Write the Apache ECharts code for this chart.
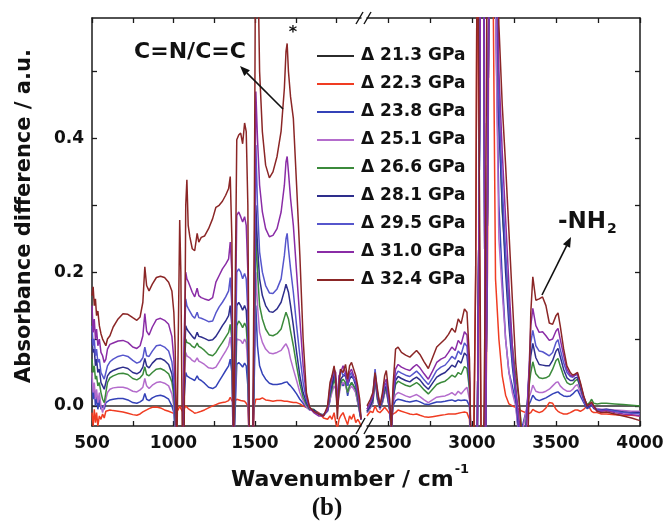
<!DOCTYPE html>
<html><head><meta charset="utf-8">
<script src="https://cdn.jsdelivr.net/npm/echarts@6/dist/echarts.min.js"></script>
<style>html,body{margin:0;padding:0;background:#fff}#c{width:667px;height:525px}</style>
</head><body><div id="c"></div>
<script>
// ---------- DATA ----------
const wnLeft = [500,507,514,521,528,536,545,555,565,575,
 585,595,610,630,660,690,720,750,775,795,
 812,824,835,850,870,895,920,945,970,990,
 1002,1010,1020,1030,1038,1045,1055,1065,1075,1082,
 1090,1100,1115,1130,1145,1155,1170,1190,1215,1240,
 1260,1280,1300,1320,1338,1348,1358,1368,1378,1388,
 1400,1412,1424,1436,1446,1456,1466,1476,1486,1496,
 1505,1515,1528,1545,1565,1588,1610,1635,1660,1680,
 1690,1697,1705,1718,1735,1755,1775,1795,1815,1835,
 1860,1890,1920,1945,1960,1972,1985,1995,2005,2015,
 2025,2040,2055,2068,2080,2092,2105,2118,2130,2142,
 2150];
const wnRight = [2375,2395,2410,2423,2437,2452,2467,2480,2490,2500,
 2510,2520,2530,2545,2560,2580,2605,2630,2650,2670,
 2690,2715,2740,2765,2790,2815,2840,2860,2880,2900,
 2918,2935,2955,2970,2985,2995,3010,3022,3032,3042,
 3055,3068,3080,3092,3105,3120,3140,3160,3180,3200,
 3220,3240,3260,3280,3300,3320,3335,3350,3362,3380,
 3400,3420,3440,3460,3480,3500,3512,3525,3545,3565,
 3585,3600,3615,3628,3645,3665,3685,3700,3712,3725,
 3745,3770,3800,3850,3900,3950,4000];

const seriesNames = ['Δ 21.3 GPa','Δ 22.3 GPa','Δ 23.8 GPa','Δ 25.1 GPa','Δ 26.6 GPa','Δ 28.1 GPa','Δ 29.5 GPa','Δ 31.0 GPa','Δ 32.4 GPa'];

// reference (21.3 GPa) difference is flat zero
const wnBlackLeft = [500, 2150];
const p213Left = [0, 0];
const wnBlackRight = [2375, 4000];
const p213Right = [0, 0];

const p223Left = [
 -0.01,-0.03,-0.005,-0.025,-0.01,-0.03,-0.015,-0.02,-0.012,-0.018,
 -0.008,-0.006,-0.006,-0.007,-0.008,-0.009,-0.011,-0.013,-0.014,-0.012,
 -0.009,-0.007,-0.006,-0.004,-0.002,-0.0015,-0.003,-0.006,-0.008,-0.01,
 -0.01,-0.012,-0.01,-0.005,0.0,-0.004,-0.008,-0.005,0.0,-0.002,
 -0.004,-0.002,-0.008,-0.011,-0.01,-0.009,-0.008,-0.006,-0.003,0.0,
 0.002,0.004,0.005,0.006,0.008,0.013,0.008,0.005,0.006,0.01,
 0.011,0.008,0.006,0.007,0.004,0.0,-0.06,-0.08,-0.06,0.0,
 0.01,0.009,0.01,0.012,0.009,0.008,0.007,0.008,0.008,0.007,
 0.008,0.007,0.006,0.006,0.005,0.005,0.003,0.0,-0.002,-0.004,
 -0.006,-0.01,-0.018,-0.02,-0.015,-0.02,-0.01,-0.025,-0.035,-0.02,
 -0.015,-0.01,-0.02,-0.028,-0.015,-0.02,-0.012,-0.025,-0.02,-0.025,
 -0.03];
const p223Right = [
 -0.015,-0.008,-0.01,0.0,-0.008,-0.01,-0.006,-0.002,0.0,-0.008,
 -0.012,-0.015,-0.012,-0.01,-0.006,-0.008,-0.01,-0.012,-0.013,-0.012,
 -0.014,-0.016,-0.017,-0.016,-0.015,-0.014,-0.013,-0.012,-0.012,-0.012,
 -0.011,-0.01,-0.009,-0.01,-0.02,-0.08,-0.05,0.2,0.8,0.3,
 -0.08,-0.08,-0.08,0.2,0.8,0.8,0.19,0.1,0.045,0.016,
 0.003,0.0,-0.002,-0.005,-0.008,-0.01,-0.012,-0.01,-0.005,-0.008,
 -0.01,-0.008,-0.003,0.005,0.004,-0.005,-0.008,-0.01,-0.012,-0.012,
 -0.01,-0.008,-0.006,-0.006,-0.008,-0.005,0.0,-0.003,-0.008,-0.01,
 -0.01,-0.012,-0.012,-0.013,-0.014,-0.014,-0.015];

const p238Left = [
 0.04,0.01,0.025,0.0,0.015,-0.005,0.01,-0.005,0.0,-0.005,
 0.005,0.007,0.009,0.01,0.011,0.011,0.009,0.005,0.004,0.006,
 0.009,0.0186,0.01,0.008,0.012,0.015,0.016,0.014,0.01,0.0,
 -0.01,-0.04,-0.08,-0.08,-0.08,-0.08,-0.08,0.01,0.05,0.045,
 0.043,0.042,0.04,0.038,0.045,0.04,0.038,0.034,0.028,0.026,
 0.029,0.037,0.045,0.053,0.06,0.07,0.05,-0.08,-0.08,0.062,
 0.065,0.062,0.058,0.064,0.06,0.03,-0.08,-0.08,-0.08,0.05,
 0.15,0.09,0.06,0.048,0.04,0.034,0.032,0.032,0.033,0.035,
 0.036,0.036,0.033,0.03,0.025,0.018,0.01,0.004,-0.002,-0.006,
 -0.006,-0.012,-0.014,-0.008,0.008,0.03,0.05,0.035,0.0,0.025,
 0.04,0.03,0.035,0.015,0.03,0.035,0.03,0.02,0.005,-0.01,
 -0.02];
const p238Right = [
 -0.01,-0.003,0.004,0.05,0.01,-0.005,0.005,0.02,0.025,0.008,
 -0.006,-0.035,0.0,0.008,0.01,0.009,0.007,0.006,0.007,0.008,
 0.006,0.003,0.002,0.004,0.006,0.006,0.007,0.008,0.009,0.007,
 0.009,0.008,0.009,0.008,0.0,-0.08,-0.08,-0.08,-0.03,0.3,
 0.8,0.8,-0.08,0.3,0.8,0.8,0.6,0.3,0.19,0.1,
 0.05,0.03,0.005,-0.05,-0.03,-0.01,0.0,0.008,0.016,0.01,
 0.008,0.01,0.012,0.015,0.018,0.02,0.021,0.018,0.015,0.014,
 0.015,0.018,0.022,0.024,0.015,0.005,-0.004,-0.002,0.002,-0.004,
 -0.006,-0.007,-0.007,-0.008,-0.009,-0.01,-0.01];

const p251Left = [
 0.05,0.02,0.035,0.01,0.025,0.005,0.02,0.0,-0.01,0.0,
 0.01,0.02,0.025,0.027,0.028,0.028,0.026,0.022,0.021,0.024,
 0.028,0.041,0.03,0.026,0.031,0.035,0.036,0.034,0.03,0.018,
 0.0,-0.03,-0.08,-0.08,-0.08,-0.08,-0.08,0.03,0.08,0.075,
 0.073,0.072,0.068,0.066,0.072,0.067,0.065,0.062,0.057,0.056,
 0.058,0.066,0.074,0.082,0.09,0.103,0.08,-0.08,-0.08,0.1,
 0.102,0.098,0.093,0.1,0.095,0.06,-0.08,-0.08,-0.08,0.08,
 0.2,0.15,0.11,0.095,0.085,0.079,0.078,0.08,0.083,0.09,
 0.093,0.094,0.085,0.07,0.055,0.038,0.02,0.008,-0.001,-0.006,
 -0.006,-0.012,-0.013,-0.007,0.01,0.02,0.03,0.025,-0.005,0.015,
 0.03,0.035,0.03,0.02,0.025,0.03,0.025,0.02,0.005,-0.01,
 -0.02];
const p251Right = [
 -0.01,-0.002,0.005,0.035,0.01,-0.005,0.005,0.018,0.022,0.008,
 -0.006,-0.035,0.005,0.017,0.02,0.018,0.015,0.013,0.015,0.017,
 0.014,0.009,0.005,0.009,0.013,0.014,0.015,0.017,0.02,0.016,
 0.022,0.018,0.024,0.028,0.01,-0.08,-0.08,-0.08,-0.03,0.3,
 0.8,0.8,-0.08,0.3,0.8,0.8,0.6,0.25,0.17,0.1,
 0.05,0.02,0.0,-0.05,-0.04,-0.01,0.01,0.02,0.031,0.022,
 0.02,0.02,0.022,0.025,0.03,0.035,0.036,0.03,0.025,0.022,
 0.022,0.025,0.03,0.032,0.02,0.008,-0.002,0.0,0.004,-0.002,
 -0.004,-0.005,-0.005,-0.006,-0.007,-0.008,-0.008];

const p266Left = [
 0.07,0.05,0.06,0.04,0.045,0.03,0.035,0.02,0.01,0.005,
 0.02,0.035,0.042,0.045,0.048,0.049,0.047,0.041,0.039,0.042,
 0.047,0.0585,0.047,0.045,0.05,0.055,0.056,0.053,0.048,0.036,
 0.015,-0.02,-0.08,-0.08,-0.08,-0.08,-0.08,0.05,0.1,0.095,
 0.094,0.093,0.089,0.087,0.094,0.089,0.087,0.083,0.077,0.075,
 0.08,0.088,0.095,0.103,0.11,0.122,0.1,-0.08,-0.08,0.12,
 0.127,0.123,0.117,0.124,0.118,0.08,-0.08,-0.08,-0.08,0.1,
 0.26,0.2,0.15,0.13,0.115,0.106,0.105,0.108,0.115,0.132,
 0.14,0.141,0.13,0.112,0.09,0.06,0.033,0.013,0.002,-0.005,
 -0.005,-0.012,-0.013,-0.006,0.015,0.025,0.04,0.03,0.0,0.02,
 0.035,0.04,0.035,0.02,0.03,0.035,0.03,0.025,0.01,-0.008,
 -0.02];
const p266Right = [
 -0.008,0.0,0.008,0.04,0.012,-0.003,0.008,0.022,0.027,0.01,
 -0.005,-0.035,0.01,0.032,0.037,0.034,0.031,0.029,0.032,0.035,
 0.031,0.024,0.018,0.025,0.032,0.035,0.037,0.041,0.046,0.043,
 0.05,0.047,0.059,0.056,0.025,-0.08,-0.08,-0.08,-0.03,0.3,
 0.8,0.8,-0.08,0.3,0.8,0.8,0.8,0.45,0.29,0.22,
 0.15,0.09,0.045,0.01,-0.05,-0.03,0.02,0.05,0.066,0.048,
 0.042,0.041,0.042,0.045,0.055,0.068,0.071,0.06,0.045,0.035,
 0.032,0.033,0.038,0.04,0.027,0.012,0.002,0.005,0.01,0.004,
 0.003,0.004,0.004,0.003,0.002,0.001,0.0];

const p281Left = [
 0.1,0.08,0.085,0.06,0.07,0.05,0.055,0.035,0.03,0.025,
 0.035,0.045,0.05,0.053,0.056,0.058,0.056,0.05,0.048,0.051,
 0.058,0.071,0.06,0.057,0.064,0.07,0.071,0.068,0.062,0.048,
 0.025,-0.01,-0.08,-0.08,-0.08,-0.08,-0.08,0.06,0.12,0.115,
 0.112,0.11,0.104,0.1,0.11,0.104,0.103,0.101,0.098,0.099,
 0.104,0.112,0.12,0.127,0.135,0.15,0.12,-0.08,-0.08,0.15,
 0.155,0.15,0.143,0.15,0.143,0.1,-0.08,-0.08,-0.08,0.12,
 0.3,0.24,0.19,0.165,0.15,0.141,0.14,0.145,0.155,0.172,
 0.182,0.183,0.17,0.15,0.12,0.08,0.045,0.02,0.005,-0.004,
 -0.006,-0.012,-0.014,-0.006,0.02,0.03,0.045,0.04,0.0,0.03,
 0.04,0.045,0.045,0.03,0.04,0.045,0.04,0.03,0.015,-0.005,
 -0.02];
const p281Right = [
 -0.008,0.0,0.01,0.045,0.015,-0.003,0.01,0.025,0.03,0.012,
 -0.005,-0.035,0.01,0.038,0.044,0.041,0.038,0.036,0.04,0.043,
 0.039,0.031,0.025,0.034,0.043,0.047,0.05,0.055,0.061,0.058,
 0.068,0.064,0.079,0.075,0.035,-0.08,-0.08,-0.08,-0.03,0.3,
 0.8,0.8,-0.08,0.3,0.8,0.8,0.8,0.42,0.3,0.2,
 0.12,0.06,0.015,-0.04,-0.08,-0.04,0.03,0.075,0.0935,0.072,
 0.062,0.061,0.06,0.06,0.068,0.082,0.086,0.074,0.055,0.042,
 0.038,0.038,0.042,0.043,0.028,0.01,-0.002,0.0,0.003,-0.003,
 -0.006,-0.006,-0.005,-0.007,-0.009,-0.01,-0.01];

const p295Left = [
 0.12,0.09,0.1,0.075,0.085,0.065,0.07,0.05,0.045,0.04,
 0.05,0.06,0.066,0.07,0.074,0.076,0.074,0.068,0.064,0.066,
 0.072,0.088,0.075,0.074,0.082,0.09,0.091,0.088,0.082,0.066,
 0.04,0.005,-0.08,-0.08,-0.08,-0.08,-0.08,0.08,0.16,0.15,
 0.146,0.145,0.135,0.131,0.14,0.132,0.131,0.129,0.126,0.127,
 0.139,0.148,0.155,0.163,0.172,0.192,0.15,-0.08,-0.08,0.2,
 0.205,0.2,0.19,0.198,0.19,0.14,-0.08,-0.08,-0.08,0.15,
 0.39,0.3,0.23,0.2,0.18,0.169,0.168,0.175,0.19,0.225,
 0.25,0.258,0.235,0.205,0.17,0.12,0.075,0.035,0.01,-0.003,
 -0.008,-0.012,-0.014,-0.005,0.025,0.045,0.05,0.035,0.01,0.04,
 0.055,0.045,0.05,0.03,0.045,0.05,0.04,0.035,0.02,0.0,
 -0.02];
const p295Right = [
 -0.005,0.005,0.015,0.055,0.02,0.0,0.012,0.03,0.035,0.015,
 -0.003,-0.035,0.015,0.045,0.052,0.049,0.046,0.044,0.048,0.052,
 0.047,0.039,0.032,0.042,0.053,0.058,0.061,0.067,0.074,0.07,
 0.082,0.077,0.094,0.089,0.04,-0.08,-0.08,-0.08,-0.03,0.3,
 0.8,0.8,-0.08,0.3,0.8,0.8,0.8,0.45,0.33,0.23,
 0.14,0.07,0.02,-0.03,-0.08,-0.05,0.03,0.095,0.113,0.09,
 0.082,0.081,0.078,0.075,0.08,0.095,0.099,0.085,0.065,0.05,
 0.044,0.043,0.046,0.047,0.032,0.012,0.0,0.002,0.004,-0.002,
 -0.006,-0.007,-0.006,-0.008,-0.01,-0.011,-0.012];

const p310Left = [
 0.15,0.11,0.13,0.1,0.115,0.09,0.1,0.08,0.075,0.065,
 0.07,0.085,0.092,0.094,0.097,0.098,0.095,0.088,0.086,0.09,
 0.105,0.138,0.112,0.106,0.118,0.129,0.131,0.128,0.122,0.104,
 0.07,0.03,-0.08,-0.08,-0.08,-0.08,-0.08,0.1,0.2,0.19,
 0.186,0.184,0.17,0.163,0.176,0.165,0.162,0.16,0.158,0.162,
 0.185,0.195,0.205,0.212,0.22,0.245,0.2,-0.08,-0.08,0.285,
 0.29,0.283,0.275,0.283,0.27,0.2,-0.08,-0.08,-0.08,0.2,
 0.47,0.4,0.33,0.29,0.265,0.253,0.255,0.265,0.29,0.33,
 0.365,0.373,0.35,0.31,0.27,0.2,0.13,0.06,0.015,-0.003,
 -0.01,-0.015,-0.015,-0.005,0.03,0.04,0.055,0.05,0.0,0.045,
 0.05,0.06,0.05,0.035,0.05,0.055,0.045,0.04,0.02,0.0,
 -0.02];
const p310Right = [
 -0.005,0.005,0.015,0.045,0.02,0.0,0.015,0.035,0.04,0.02,
 0.0,-0.035,0.02,0.055,0.062,0.058,0.055,0.053,0.058,0.062,
 0.057,0.048,0.04,0.052,0.065,0.07,0.073,0.08,0.088,0.083,
 0.098,0.092,0.111,0.106,0.05,-0.08,-0.08,-0.08,-0.03,0.3,
 0.8,0.8,-0.08,0.3,0.8,0.8,0.8,0.5,0.38,0.28,
 0.18,0.09,0.03,-0.02,-0.08,-0.06,0.03,0.12,0.146,0.12,
 0.11,0.111,0.105,0.098,0.1,0.112,0.116,0.1,0.076,0.055,
 0.046,0.044,0.047,0.048,0.033,0.014,0.0,0.002,0.004,-0.002,
 -0.008,-0.008,-0.007,-0.01,-0.012,-0.013,-0.015];

const p324Left = [
 0.165,0.178,0.15,0.16,0.135,0.142,0.12,0.108,0.1,0.095,
 0.09,0.1,0.105,0.118,0.13,0.138,0.137,0.132,0.128,0.133,
 0.155,0.208,0.18,0.172,0.182,0.192,0.194,0.192,0.185,0.172,
 0.14,0.09,-0.08,-0.08,0.278,0.2,-0.08,-0.05,0.3,0.338,
 0.27,0.253,0.235,0.232,0.258,0.245,0.252,0.254,0.265,0.28,
 0.297,0.3,0.306,0.315,0.325,0.343,0.25,-0.08,-0.08,0.398,
 0.405,0.408,0.392,0.423,0.41,0.3,-0.08,-0.08,-0.08,0.3,
 0.8,0.7,0.5,0.41,0.36,0.341,0.35,0.373,0.411,0.475,
 0.53,0.542,0.5,0.462,0.43,0.33,0.225,0.1,0.02,-0.002,
 -0.008,-0.012,-0.015,0.0,0.035,0.045,0.06,0.04,-0.02,0.03,
 0.055,0.05,0.062,0.04,0.06,0.065,0.055,0.045,0.03,0.01,
 -0.02];
const p324Right = [
 0.0,0.01,0.02,0.05,0.025,0.0,0.02,0.045,0.053,0.03,
 0.01,-0.035,0.03,0.085,0.088,0.08,0.076,0.073,0.078,0.083,
 0.077,0.066,0.056,0.072,0.088,0.094,0.1,0.107,0.116,0.11,
 0.13,0.123,0.145,0.14,0.07,-0.08,-0.08,0.2,0.8,0.8,
 -0.08,-0.08,0.2,0.8,0.8,0.8,0.8,0.57,0.45,0.36,
 0.26,0.16,0.065,0.01,-0.06,-0.08,-0.03,0.14,0.193,0.158,
 0.16,0.163,0.15,0.124,0.122,0.135,0.139,0.12,0.086,0.06,
 0.05,0.046,0.048,0.05,0.035,0.015,0.0,0.003,0.006,0.0,
 -0.008,-0.01,-0.009,-0.012,-0.015,-0.018,-0.022];

const xTicksLeft = [500,750,1000,1250,1500,1750,2000];
const xLabelsLeft = [500,1000,1500,2000];
const xTicksRight = [2500,2750,3000,3250,3500,3750,4000];
const xLabelsRight = [2500,3000,3500,4000];
const yTicks = [0,0.1,0.2,0.3,0.4,0.5];
const yLabels = [0,0.2,0.4];

// ---------- BUILD ----------
const colors = ['#2b2b2b','#f03c22','#3442b8','#b46ccc','#3b8a3b','#2e2e8c','#5656cc','#8a2ca6','#8b2626'];
const leftSets = [p213Left,p223Left,p238Left,p251Left,p266Left,p281Left,p295Left,p310Left,p324Left];
const rightSets = [p213Right,p223Right,p238Right,p251Right,p266Right,p281Right,p295Right,p310Right,p324Right];

function pairs(xs, ys, name){
  if (xs.length !== ys.length) throw new Error('length mismatch ' + name + ' ' + xs.length + ' vs ' + ys.length);
  return xs.map((x,i)=>[x, ys[i]]);
}
const series = [];
seriesNames.forEach((nm, k) => {
  const xl = k === 0 ? wnBlackLeft : wnLeft;
  const xr = k === 0 ? wnBlackRight : wnRight;
  const common = {type:'line', name:nm, symbol:'none', showSymbol:false, clip:true, animation:false,
    lineStyle:{color:colors[k], width:1.5}, itemStyle:{color:colors[k]}, z: 2 + k};
  series.push(Object.assign({}, common, {xAxisIndex:0, yAxisIndex:0, data: pairs(xl, leftSets[k], nm+' L')}));
  series.push(Object.assign({}, common, {xAxisIndex:2, yAxisIndex:1, data: pairs(xr, rightSets[k], nm+' R')}));
});

const FONT = '"DejaVu Sans", "Liberation Sans", Arial, sans-serif';
const lineC = '#1a1a1a';
function xAxisDef(gridIndex, pos, min, max, ticks, labels){
  return {
    type:'value', gridIndex, position:pos, min, max,
    axisLine:{show:true, onZero:false, lineStyle:{color:lineC, width:1.5}},
    axisTick:{show:true, inside:true, length:5, customValues:ticks, lineStyle:{color:lineC, width:1.3}},
    axisLabel:{show: !!labels, customValues: labels || [], margin:9,
      fontFamily:FONT, fontWeight:'bold', fontSize:17, color:'#111', formatter:v=>String(v)},
    splitLine:{show:false}
  };
}
function yAxisDef(gridIndex, pos, showLabels){
  return {
    type:'value', gridIndex, position:pos, min:-0.03, max:0.58,
    axisLine:{show:true, onZero:false, lineStyle:{color:lineC, width:1.5}},
    axisTick:{show:true, inside:true, length:5, customValues:yTicks, lineStyle:{color:lineC, width:1.3}},
    axisLabel:{show:showLabels, customValues:yLabels, margin:8,
      fontFamily:FONT, fontWeight:'bold', fontSize:17, color:'#111', formatter:v=>v.toFixed(1)},
    splitLine:{show:false}
  };
}

function arrow(x1,y1,x2,y2){
  const a = Math.atan2(y2-y1, x2-x1), L = 10, W = 4;
  const bx = x2 - L*Math.cos(a), by = y2 - L*Math.sin(a);
  return [
    {type:'line', shape:{x1, y1, x2:bx, y2:by}, style:{stroke:'#111', lineWidth:1.6}, z:50},
    {type:'polygon', shape:{points:[[x2,y2],[bx - W*Math.sin(a), by + W*Math.cos(a)],[bx + W*Math.sin(a), by - W*Math.cos(a)]]}, style:{fill:'#111'}, z:50}
  ];
}
function slash(x1,y1,x2,y2){ return {type:'line', shape:{x1,y1,x2,y2}, style:{stroke:'#111', lineWidth:1.4}, z:50}; }

const graphic = [
  {type:'text', x:231, y:477, z:50, style:{text:'{t|Wavenumber / cm}{s|-1}', verticalAlign:'middle', align:'left', fill:'#111',
    rich:{t:{fontFamily:FONT, fontWeight:'bold', fontSize:22, lineHeight:28, verticalAlign:'bottom'},
          s:{fontFamily:FONT, fontWeight:'bold', fontSize:13, lineHeight:28, verticalAlign:'top', padding:[0,0,0,1]}}}},
  {type:'text', x:25, y:216, rotation:Math.PI/2, z:50, style:{text:'Absorbance difference / a.u.', align:'center', verticalAlign:'middle',
    font:'bold 21px ' + FONT, fill:'#111'}},
  {type:'text', x:327, y:509, z:50, style:{text:'(b)', align:'center', verticalAlign:'middle', font:'bold 25px "Liberation Serif", "DejaVu Serif", serif', fill:'#111'}},
  {type:'text', x:190, y:52, z:50, style:{text:'C=N/C=C', align:'center', verticalAlign:'middle', font:'bold 22px ' + FONT, fill:'#111'}},
  {type:'text', x:293, y:33, z:50, style:{text:'*', align:'center', verticalAlign:'middle', font:'bold 16px ' + FONT, fill:'#111'}},
  {type:'text', x:558, y:222, z:50, style:{text:'-NH', align:'left', verticalAlign:'middle', font:'bold 23px ' + FONT, fill:'#111'}},
  {type:'text', x:607, y:229, z:50, style:{text:'2', align:'left', verticalAlign:'middle', font:'bold 14px ' + FONT, fill:'#111'}},
  ...arrow(283,109,240,66),
  ...arrow(542,295,571,237),
  slash(356,24,363,12), slash(364,24,371,12),
  slash(356,434,365,418), slash(364,434,373,418)
];

const chart = echarts.init(document.getElementById('c'), null, {renderer:'canvas'});
chart.setOption({
  backgroundColor:'#ffffff',
  animation:false,
  grid:[
    {left:92, top:18, width:269, height:408},
    {left:367, top:18, width:273, height:408}
  ],
  xAxis:[
    xAxisDef(0,'bottom',500,2150,xTicksLeft,xLabelsLeft),
    xAxisDef(0,'top',500,2150,xTicksLeft,null),
    xAxisDef(1,'bottom',2375,4000,xTicksRight,xLabelsRight),
    xAxisDef(1,'top',2375,4000,xTicksRight,null)
  ],
  yAxis:[ yAxisDef(0,'left',true), yAxisDef(1,'right',false) ],
  legend:{
    data:seriesNames, orient:'vertical', left:312, top:41,
    icon:'rect', itemWidth:37, itemHeight:2, itemGap:8, selectedMode:false,
    textStyle:{fontFamily:FONT, fontWeight:'bold', fontSize:17, color:'#111', lineHeight:20, padding:[0,0,0,2]}
  },
  series,
  graphic
});
</script>
</body></html>
